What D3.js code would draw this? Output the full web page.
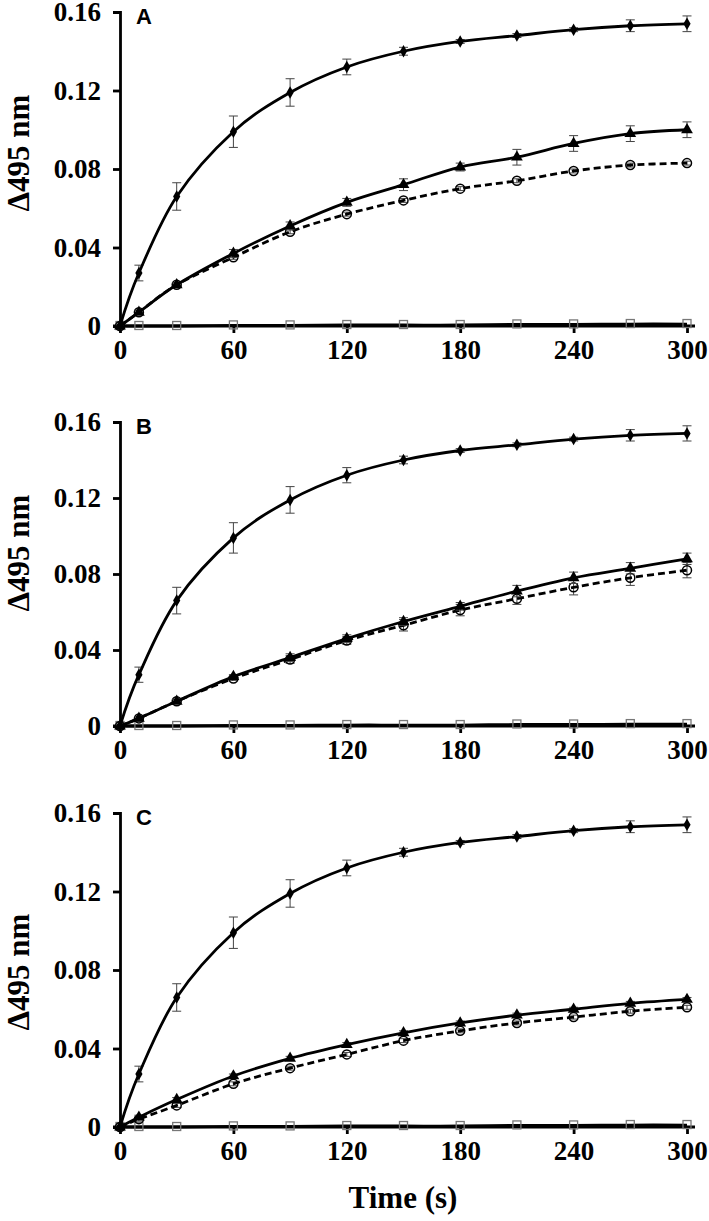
<!DOCTYPE html>
<html>
<head>
<meta charset="utf-8">
<script src="https://cdnjs.cloudflare.com/ajax/libs/d3/7.8.5/d3.min.js"></script>
<style>
  body { margin: 0; background: #fff; }
  .serif { font-family: "Liberation Serif", Tinos, "Nimbus Roman", "Times New Roman", "DejaVu Serif", serif; font-weight: bold; }
  .tick text { font-family: "Liberation Serif", Tinos, "Nimbus Roman", "Times New Roman", "DejaVu Serif", serif; font-weight: bold; font-size: 27px; }
</style>
</head>
<body>
<svg id="chart" width="709" height="1221"></svg>
<script>
// time points (s)
var times = [0, 10, 30, 60, 90, 120, 150, 180, 210, 240, 270, 300];
var xTicks = [0, 60, 120, 180, 240, 300];
var yTicks = [0, 0.04, 0.08, 0.12, 0.16];
var panelLabels = ["A", "B", "C"];

// filled diamonds (same in every panel)
var diamond = [0, 0.027, 0.066, 0.099, 0.119, 0.132, 0.140, 0.145, 0.148, 0.151, 0.153, 0.154];
var diamondErr = [0, 0.004, 0.007, 0.008, 0.007, 0.004, 0.002, 0.001, 0.001, 0.001, 0.003, 0.004];

// filled triangles
var triA = [0, 0.007, 0.021, 0.037, 0.051, 0.063, 0.072, 0.081, 0.086, 0.093, 0.098, 0.100];
var triAErr = [0, 0.001, 0.001, 0.002, 0.002, 0.002, 0.003, 0.002, 0.004, 0.004, 0.004, 0.004];
var triB = [0, 0.004, 0.013, 0.026, 0.036, 0.046, 0.055, 0.063, 0.071, 0.078, 0.083, 0.088];
var triBErr = [0, 0.001, 0.001, 0.001, 0.002, 0.002, 0.002, 0.002, 0.003, 0.003, 0.003, 0.003];
var triC = [0, 0.005, 0.014, 0.026, 0.035, 0.042, 0.048, 0.053, 0.057, 0.060, 0.063, 0.065];
var triCErr = [0, 0.001, 0.001, 0.001, 0.001, 0.001, 0.001, 0.001, 0.001, 0.001, 0.001, 0.001];

// open circles (dashed)
var circA = [0, 0.007, 0.021, 0.035, 0.048, 0.057, 0.064, 0.070, 0.074, 0.079, 0.082, 0.083];
var circAErr = [0, 0.001, 0.001, 0.001, 0.001, 0.001, 0.001, 0.001, 0.001, 0.001, 0.001, 0.001];
var circB = [0, 0.004, 0.013, 0.025, 0.035, 0.045, 0.053, 0.061, 0.067, 0.073, 0.078, 0.082];
var circBErr = [0, 0.001, 0.001, 0.001, 0.002, 0.002, 0.003, 0.003, 0.003, 0.004, 0.004, 0.004];
var circC = [0, 0.004, 0.011, 0.022, 0.030, 0.037, 0.044, 0.049, 0.053, 0.056, 0.059, 0.061];
var circCErr = [0, 0.001, 0.001, 0.001, 0.001, 0.001, 0.001, 0.001, 0.001, 0.001, 0.001, 0.001];

// open grey squares (control, ~0)
var square = [0, 0, 0, 0.0003, 0.0003, 0.0005, 0.0005, 0.0005, 0.0008, 0.0008, 0.001, 0.001];

var panels = [
  {label: panelLabels[0], top: 12, bottom: 326, labelY: 153, tri: triA, triErr: triAErr, circ: circA, circErr: circAErr},
  {label: panelLabels[1], top: 422, bottom: 726, labelY: 553, tri: triB, triErr: triBErr, circ: circB, circErr: circBErr},
  {label: panelLabels[2], top: 813, bottom: 1127, labelY: 972, tri: triC, triErr: triCErr, circ: circC, circErr: circCErr}
];

var svg = d3.select("#chart");
var x = d3.scaleLinear().domain([0, 300]).range([120, 687]);

function points(vals, err) {
  return vals.map(function(v, i) { return {t: times[i], v: v, e: err ? err[i] : 0}; });
}

panels.forEach(function(p) {
  var y = d3.scaleLinear().domain([0, 0.16]).range([p.bottom, p.top]);
  var g = svg.append("g");

  // axes
  g.append("g")
      .attr("transform", "translate(120,0)")
      .call(d3.axisLeft(y).tickValues(yTicks).tickSizeOuter(0).tickSize(7).tickPadding(12)
        .tickFormat(function(d) { return d === 0 ? "0" : d3.format(".2f")(d); }))
      .call(function(a) { a.selectAll("path, line").attr("stroke", "#000").attr("stroke-width", 2.8); });

  g.append("g")
      .attr("transform", "translate(0," + p.bottom + ")")
      .call(d3.axisBottom(x).tickValues(xTicks).tickSizeOuter(0).tickSize(7).tickPadding(7))
      .call(function(a) {
        a.selectAll("path, line").attr("stroke", "#000").attr("stroke-width", 2.8);
        a.select(".domain").attr("d", "M113,0H695");
      });

  g.append("text")
      .attr("x", 136).attr("y", p.top + 12)
      .attr("font-family", "'Liberation Sans', Arial, sans-serif")
      .attr("font-weight", "bold").attr("font-size", 22)
      .text(p.label);

  g.append("text")
      .attr("class", "serif")
      .attr("transform", "translate(29," + p.labelY + ") rotate(-90)")
      .attr("text-anchor", "middle")
      .attr("font-size", 31)
      .text("\u0394495 nm");

  var series = [
    {data: points(square, null), shape: "square", dash: null},
    {data: points(p.circ, p.circErr), shape: "circle", dash: "7,4"},
    {data: points(p.tri, p.triErr), shape: "triangle", dash: null},
    {data: points(diamond, diamondErr), shape: "diamond", dash: null}
  ];

  var line = d3.line()
      .x(function(d) { return x(d.t); })
      .y(function(d) { return y(d.v); })
      .curve(d3.curveCardinal.tension(0));

  series.forEach(function(s) {
    var sg = g.append("g");

    var eb = sg.selectAll(".eb")
        .data(s.data.filter(function(d) { return d.e > 0; }))
        .enter().append("g")
        .attr("stroke", "#444").attr("stroke-width", 1);
    eb.append("line")
        .attr("x1", function(d) { return x(d.t); })
        .attr("x2", function(d) { return x(d.t); })
        .attr("y1", function(d) { return y(d.v + d.e); })
        .attr("y2", function(d) { return y(d.v - d.e); });
    [1, -1].forEach(function(sign) {
      eb.append("line")
          .attr("x1", function(d) { return x(d.t) - 4.5; })
          .attr("x2", function(d) { return x(d.t) + 4.5; })
          .attr("y1", function(d) { return y(d.v + sign * d.e); })
          .attr("y2", function(d) { return y(d.v + sign * d.e); });
    });

    sg.append("path")
        .datum(s.data)
        .attr("fill", "none")
        .attr("stroke", "#000")
        .attr("stroke-width", 2.8)
        .attr("stroke-dasharray", s.dash)
        .attr("d", line);

    var pts = sg.selectAll(".pt").data(s.data).enter();
    if (s.shape === "square") {
      pts.append("rect")
          .attr("x", function(d) { return x(d.t) - 4; })
          .attr("y", function(d) { return y(d.v) - 4.5; })
          .attr("width", 8).attr("height", 8)
          .attr("fill", "none").attr("stroke", "#777").attr("stroke-width", 1.3);
    } else if (s.shape === "circle") {
      pts.append("circle")
          .attr("cx", function(d) { return x(d.t); })
          .attr("cy", function(d) { return y(d.v); })
          .attr("r", 4.5)
          .attr("fill", "none").attr("stroke", "#000").attr("stroke-width", 1.5);
    } else if (s.shape === "triangle") {
      pts.append("path")
          .attr("transform", function(d) { return "translate(" + x(d.t) + "," + y(d.v) + ")"; })
          .attr("d", d3.symbol().type(d3.symbolTriangle).size(60))
          .attr("fill", "#000");
    } else {
      pts.append("path")
          .attr("transform", function(d) { return "translate(" + x(d.t) + "," + y(d.v) + ")"; })
          .attr("d", d3.symbol().type(d3.symbolDiamond).size(45))
          .attr("fill", "#000");
    }
  });
});

svg.append("text")
    .attr("class", "serif")
    .attr("x", 403).attr("y", 1208)
    .attr("text-anchor", "middle")
    .attr("font-size", 31)
    .text("Time (s)");
</script>
</body>
</html>
